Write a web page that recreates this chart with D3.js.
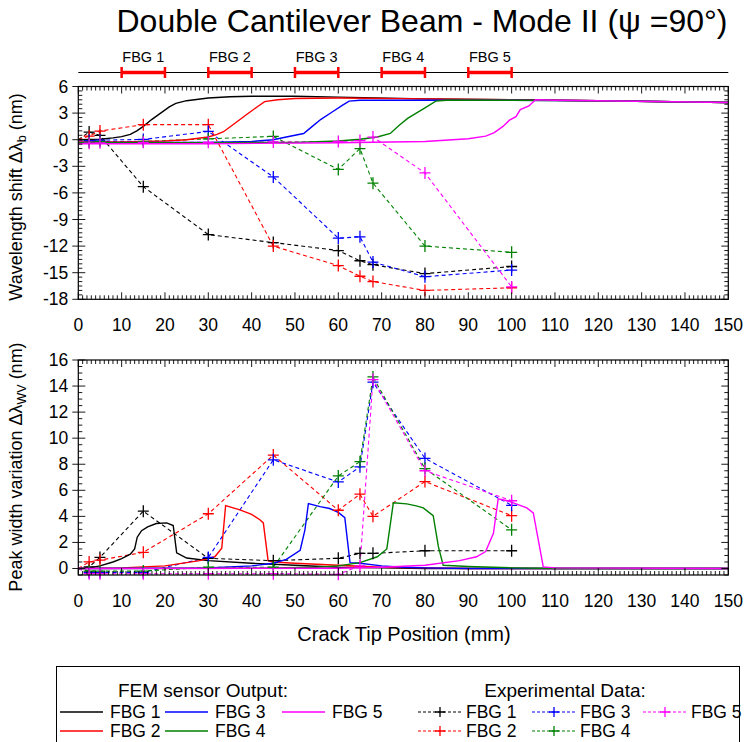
<!DOCTYPE html>
<html><head><meta charset="utf-8">
<script src="https://cdn.jsdelivr.net/npm/d3@7"></script>
<style>body{margin:0;background:#fff;} svg{display:block;font-family:"Liberation Sans",Arial,sans-serif;}</style>
</head><body><svg id="c" width="745" height="742"></svg>
<script>
const sensors = ["FBG 1","FBG 2","FBG 3","FBG 4","FBG 5"];
const colors = ["#000000","#ff0000","#0000ff","#008000","#ff00ff"];
const gratingStart = [10,30,50,70,90];
const gratingEnd = [20,40,60,80,100];

// FEM wavelength shift (solid)
const femShift1 = [[0,0],[5,0.05],[8,0.2],[10,0.35],[12,0.6],[13.5,1.0],[15,1.5],[17,2.3],[19,3.0],[21,3.7],[22.5,4.1],[25,4.4],[30,4.7],[35,4.85],[40,4.9],[50,4.9],[60,4.8],[80,4.6],[100,4.5],[120,4.4],[150,4.2]];
const femShift2 = [[0,-0.25],[10,-0.25],[20,-0.15],[25,0],[30,0.3],[32,0.6],[33.5,0.9],[36,1.8],[39,2.9],[41,3.6],[43,4.3],[46,4.5],[50,4.65],[60,4.7],[80,4.6],[100,4.5],[120,4.4],[150,4.2]];
const femShift3 = [[0,-0.3],[20,-0.3],[30,-0.3],[40,-0.2],[45,0],[48,0.3],[52,0.7],[54,1.5],[56,2.3],[58.5,3.1],[61,3.9],[62.5,4.35],[65,4.45],[80,4.45],[100,4.45],[120,4.4],[150,4.2]];
const femShift4 = [[0,-0.35],[30,-0.35],[50,-0.3],[60,-0.15],[65,0.05],[69,0.3],[72,0.7],[74,1.6],[76,2.4],[78,3.0],[80,3.6],[82.5,4.35],[85,4.45],[100,4.45],[120,4.4],[150,4.2]];
const femShift5 = [[0,-0.45],[30,-0.45],[60,-0.35],[80,-0.2],[90,0.1],[94,0.4],[96,0.8],[98,1.5],[99.5,2.2],[101,2.6],[102,3.4],[104,3.8],[105.5,4.5],[110,4.45],[120,4.4],[150,4.2]];

// FEM peak width variation (solid)
const femWidth1 = [[0,0],[2.5,0.05],[5,0.2],[8,0.5],[10,0.75],[12,1.1],[13,1.5],[13.6,2.4],[14.6,2.9],[16,3.2],[18,3.45],[20.4,3.5],[21.9,3.3],[22.7,1.2],[25,0.8],[30,0.6],[40,0.4],[50,0.25],[60,0.1],[70,0.05],[80,0],[150,0]];
const femWidth2 = [[0,0],[10,0.05],[20,0.2],[28,0.6],[31.5,0.9],[33.1,1.55],[34,4.83],[37.3,4.5],[40,4.15],[41.9,3.74],[42.7,3.5],[43.8,0.6],[45,0.5],[50,0.4],[60,0.25],[70,0.1],[80,0.05],[90,0],[150,0]];
const femWidth3 = [[0,0],[20,0.02],[30,0.05],[40,0.2],[45,0.4],[48,0.7],[51.2,1.4],[52.3,2.97],[53.1,4.98],[55.8,4.75],[58,4.6],[60,4.3],[61.5,3.9],[62.7,0.45],[65,0.4],[70,0.2],[75,0.1],[80,0.05],[90,0],[150,0]];
const femWidth4 = [[0,0],[40,0.02],[55,0.1],[60,0.2],[65,0.45],[69,0.9],[71.2,1.5],[72.7,5.04],[75.8,4.96],[78,4.8],[79.6,4.65],[81.9,4.05],[83.1,1.67],[84.2,0.25],[90,0.15],[100,0.05],[110,0],[150,0]];
const femWidth5 = [[0,0],[60,0.02],[70,0.1],[80,0.25],[88,0.6],[91.9,0.9],[94,1.3],[95.8,2.7],[96.9,5.35],[99,5.2],[100.4,5.04],[103.5,4.65],[105,4.26],[107.3,0.12],[110,0.05],[150,0]];

// Experimental data (dashed + markers)
const expX = [0,2.5,5,15,30,45,60,65,68,80,100];
const expShift1 = [0,0.86,0.48,-5.3,-10.7,-11.6,-12.5,-13.65,-14.1,-15.1,-14.3];
const expShift2 = [0,0.4,0.97,1.7,1.7,-12.0,-14.2,-15.4,-16.0,-17.0,-16.7];
const expShift3 = [0,-0.1,-0.05,0.03,0.93,-4.2,-11.1,-10.95,-13.8,-15.45,-14.7];
const expShift4 = [0,-0.3,-0.2,-0.2,0.1,0.37,-3.35,-1.0,-4.9,-12.0,-12.7];
const expShift5 = [0,-0.4,-0.35,-0.3,-0.3,-0.25,-0.2,-0.1,0.3,-3.75,-16.6];
const expWidth1 = [0,0.12,0.85,4.4,0.78,0.6,0.78,1.16,1.16,1.36,1.36];
const expWidth2 = [0,0.5,0.64,1.24,4.2,8.7,4.47,5.7,4.0,6.67,4.05];
const expWidth3 = [0,-0.3,-0.3,-0.3,0.85,8.34,6.64,7.8,14.3,8.45,4.85];
const expWidth4 = [0,-0.2,-0.2,-0.2,0.1,0.1,7.1,8.2,14.7,7.67,2.97];
const expWidth5 = [0,-0.4,-0.4,-0.4,-0.4,-0.4,-0.45,0.2,14.5,7.5,5.2];

const xTicks = d3.range(0,151,10);
const shiftTicks = [6,3,0,-3,-6,-9,-12,-15,-18];
const widthTicks = [0,2,4,6,8,10,12,14,16];

const femShift = [femShift1,femShift2,femShift3,femShift4,femShift5];
const femWidth = [femWidth1,femWidth2,femWidth3,femWidth4,femWidth5];
const expShift = [expShift1,expShift2,expShift3,expShift4,expShift5];
const expWidth = [expWidth1,expWidth2,expWidth3,expWidth4,expWidth5];

const svg = d3.select("#c");
const x = d3.scaleLinear().domain([0,150]).range([78.3,728.3]);
const yTop = d3.scaleLinear().domain([-18,6]).range([299.3,86.5]);
const yBot = d3.scaleLinear().domain([-0.5,16]).range([575,360]);

// Title
svg.append("text").attr("x",422).attr("y",32).attr("text-anchor","middle")
  .attr("font-size",32).text("Double Cantilever Beam - Mode II (ψ =90°)");

// Grating positions
svg.append("line").attr("x1",x(0)).attr("x2",x(150)).attr("y1",72.5).attr("y2",72.5).attr("stroke","#000").attr("stroke-width",1);
sensors.forEach((s,i)=>{
  const g = svg.append("g");
  g.append("line").attr("x1",x(gratingStart[i])).attr("x2",x(gratingEnd[i])).attr("y1",72.5).attr("y2",72.5).attr("stroke","#ff0000").attr("stroke-width",3.5);
  [gratingStart[i],gratingEnd[i]].forEach(v=>g.append("line").attr("x1",x(v)).attr("x2",x(v)).attr("y1",67).attr("y2",78).attr("stroke","#ff0000").attr("stroke-width",2.5));
  g.append("text").attr("x",x((gratingStart[i]+gratingEnd[i])/2)).attr("y",62).attr("text-anchor","middle").attr("font-size",14.5).text(s);
});

function panel(y, yTicks, yMinorStep, femData, expData, clipId){
  const x0 = x.range()[0], x1 = x.range()[1];
  const yr = y.range(); const yb = yr[0], yt = yr[1];
  const g = svg.append("g");
  g.append("clipPath").attr("id",clipId).append("rect").attr("x",x0).attr("y",yt).attr("width",x1-x0).attr("height",yb-yt);
  const pl = g.append("g").attr("clip-path",`url(#${clipId})`);
  const line = d3.line().x(d=>x(d[0])).y(d=>y(d[1]));
  expData.forEach((vals,i)=>{
    const pts = expX.map((xv,k)=>[xv,vals[k]]);
    pl.append("path").attr("d",line(pts)).attr("fill","none").attr("stroke",colors[i]).attr("stroke-width",1.1).attr("stroke-dasharray","4,3");
  });
  femData.forEach((pts,i)=>{
    pl.append("path").attr("d",line(pts)).attr("fill","none").attr("stroke",colors[i]).attr("stroke-width",1.4);
  });
  expData.forEach((vals,i)=>{
    expX.forEach((xv,k)=>{
      if(k===0) return;
      const px = x(xv), py = y(vals[k]);
      g.append("path").attr("d",`M${px-5.5},${py}H${px+5.5}M${px},${py-6}V${py+6}`).attr("stroke",colors[i]).attr("stroke-width",1.3);
    });
  });
  g.append("rect").attr("x",x0).attr("y",yt).attr("width",x1-x0).attr("height",yb-yt).attr("fill","none").attr("stroke","#000").attr("stroke-width",1.2);
  d3.range(0,151,1).forEach(v=>{
    const major = v%10===0; const len = major?7:4; const px = x(v);
    g.append("line").attr("x1",px).attr("x2",px).attr("y1",yb).attr("y2",yb-len).attr("stroke","#000").attr("stroke-width",0.9);
    g.append("line").attr("x1",px).attr("x2",px).attr("y1",yt).attr("y2",yt+len).attr("stroke","#000").attr("stroke-width",0.9);
  });
  const [d0,d1] = y.domain();
  const minorY = d3.range(Math.ceil(d0/yMinorStep)*yMinorStep, d1+1e-9, yMinorStep);
  minorY.forEach(v=>{
    const isMajor = yTicks.some(t=>Math.abs(t-v)<1e-9); const py = y(v);
    if(isMajor){
      g.append("line").attr("x1",x0-6).attr("x2",x0+7).attr("y1",py).attr("y2",py).attr("stroke","#000").attr("stroke-width",0.9);
      g.append("line").attr("x1",x1-7).attr("x2",x1).attr("y1",py).attr("y2",py).attr("stroke","#000").attr("stroke-width",0.9);
    } else {
      g.append("line").attr("x1",x0).attr("x2",x0+4).attr("y1",py).attr("y2",py).attr("stroke","#000").attr("stroke-width",0.9);
      g.append("line").attr("x1",x1-4).attr("x2",x1).attr("y1",py).attr("y2",py).attr("stroke","#000").attr("stroke-width",0.9);
    }
  });
  yTicks.forEach(t=>{
    g.append("text").attr("x",x0-10).attr("y",y(t)+6).attr("text-anchor","end").attr("font-size",17.5).text(t);
  });
  xTicks.forEach(t=>{
    g.append("text").attr("x",x(t)).attr("y",yb+32).attr("text-anchor","middle").attr("font-size",17.5).text(t);
  });
}
panel(yTop, shiftTicks, 0.5, femShift, expShift, "clipTop");
panel(yBot, widthTicks, 0.5, femWidth, expWidth, "clipBot");

function vTitle(cx, cy, main, sub){
  const g = svg.append("g").attr("transform",`translate(${cx},${cy}) rotate(-90)`);
  const t = g.append("text").attr("x",0).attr("y",0).attr("font-size",18);
  t.append("tspan").text(main);
  t.append("tspan").attr("font-size",12.5).attr("dy",4).text(sub);
  t.append("tspan").attr("dy",-4).text(" (nm)");
  const w = t.node().getComputedTextLength();
  t.attr("x",-w/2);
}
vTitle(22,197,"Wavelength shift Δλ","b");
vTitle(22,467,"Peak width variation Δλ","WV");
svg.append("text").attr("x",404).attr("y",641).attr("text-anchor","middle").attr("font-size",20).text("Crack Tip Position (mm)");

// legend
const lg = svg.append("g");
lg.append("rect").attr("x",56.5).attr("y",666.5).attr("width",683).attr("height",90).attr("fill","#fff").attr("stroke","#000").attr("stroke-width",1);
lg.append("text").attr("x",203).attr("y",697).attr("text-anchor","middle").attr("font-size",19).text("FEM sensor Output:");
lg.append("text").attr("x",565).attr("y",697).attr("text-anchor","middle").attr("font-size",19).text("Experimental Data:");
const femPos = [[60,718],[60,737],[165,718],[165,737],[282,718]];
const expPos = [[418,718],[418,737],[532,718],[532,737],[643,718]];
sensors.forEach((s,i)=>{
  const [fx,fy] = femPos[i];
  lg.append("line").attr("x1",fx).attr("x2",fx+43).attr("y1",fy-6).attr("y2",fy-6).attr("stroke",colors[i]).attr("stroke-width",1.4);
  lg.append("text").attr("x",fx+50).attr("y",fy).attr("font-size",17.5).text(s);
  const [ex,ey] = expPos[i];
  lg.append("line").attr("x1",ex).attr("x2",ex+43).attr("y1",ey-6).attr("y2",ey-6).attr("stroke",colors[i]).attr("stroke-width",1.1).attr("stroke-dasharray","3,2");
  lg.append("path").attr("d",`M${ex+17},${ey-6}H${ex+27}M${ex+22},${ey-11}V${ey-1}`).attr("stroke",colors[i]).attr("stroke-width",1.3);
  lg.append("text").attr("x",ex+48).attr("y",ey).attr("font-size",17.5).text(s);
});
</script></body></html>
